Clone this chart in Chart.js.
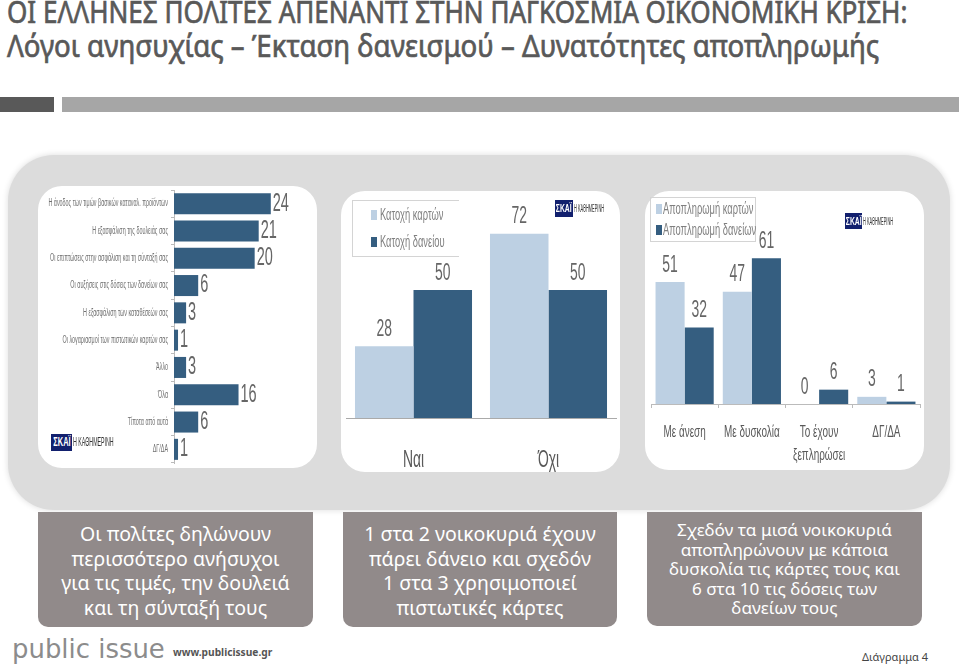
<!DOCTYPE html>
<html>
<head>
<meta charset="utf-8">
<script src="https://cdn.jsdelivr.net/npm/chart.js@4/dist/chart.umd.min.js"></script>
<style>
html, body { margin: 0; padding: 0; background: #fff; overflow: hidden; }
body { width: 959px; height: 665px; position: relative; font-family: "Noto Sans", sans-serif; }
.abs, canvas { position: absolute; }
.title { left: 7px; color: #595959; white-space: nowrap; transform-origin: left center; font-family: "Noto Sans", sans-serif; -webkit-text-stroke: 0.7px #595959; }
.panel { background: #fff; border-radius: 24px; }
.note { background: #918a8a; color: #fff; text-align: center; border-radius: 0 0 10px 10px; font-family: "Noto Sans", sans-serif; }
.legend { border: 1px solid #d4d4d4; box-sizing: border-box; font-family: "Liberation Sans", sans-serif; color: #7f7f7f; }
.legend div { position: absolute; white-space: nowrap; transform-origin: left center; }
.legend i { position: absolute; display: block; }
.skai { background: #12206e; color: #fff; font-family: "Liberation Sans", sans-serif; font-weight: bold; text-align: center; overflow: hidden; }
.skai span { display: inline-block; transform: scaleX(0.62); margin: 0 -8px; }
.kath { color: #333; font-family: "Liberation Sans", sans-serif; white-space: nowrap; transform-origin: left center; }
</style>
</head>
<body>
<div class="abs title" style="top:-9px;font-size:31px;line-height:40px" id="t1">ΟΙ ΕΛΛΗΝΕΣ ΠΟΛΙΤΕΣ ΑΠΕΝΑΝΤΙ ΣΤΗΝ ΠΑΓΚΟΣΜΙΑ ΟΙΚΟΝΟΜΙΚΗ ΚΡΙΣΗ:</div>
<div class="abs title" style="top:25px;font-size:31px;line-height:40px" id="t2">Λόγοι ανησυχίας – Έκταση δανεισμού – Δυνατότητες αποπληρωμής</div>

<div class="abs" style="left:0;top:97px;width:54px;height:15px;background:#595959"></div>
<div class="abs" style="left:62px;top:97px;width:897px;height:15px;background:#a6a6a6"></div>

<div class="abs" style="left:8px;top:155px;width:942px;height:355px;background:#dcdcdc;border-radius:46px;box-shadow:0 0 6px #dcdcdc"></div>
<div class="abs panel" style="left:38px;top:186px;width:279px;height:282px"></div>
<div class="abs panel" style="left:341px;top:191px;width:279px;height:281px"></div>
<div class="abs panel" style="left:645px;top:191px;width:279px;height:279px"></div>

<canvas id="reasonsChart" width="278" height="280" style="left:38px;top:186px"></canvas>
<canvas id="ownershipChart" width="279" height="281" style="left:341px;top:191px"></canvas>
<canvas id="repaymentChart" width="278" height="279" style="left:645px;top:191px"></canvas>

<div class="abs legend" id="legend2" style="left:352px;top:200px;width:107px;height:57px;border-right:0;font-size:17px"></div>
<div class="abs legend" id="legend3" style="left:650px;top:197px;width:106px;height:45px;font-size:17px"></div>

<div class="abs skai" style="left:51px;top:434px;width:21px;height:17px;line-height:17px;font-size:12px"><span>ΣΚΑΪ</span></div>
<div class="abs kath" style="left:73px;top:436px;font-size:12px;line-height:13px;transform:scaleX(0.44)">Η ΚΑΘΗΜΕΡΙΝΗ</div>
<div class="abs skai" style="left:555px;top:200px;width:18px;height:17px;line-height:17px;font-size:11px"><span>ΣΚΑΪ</span></div>
<div class="abs kath" style="left:574px;top:203px;font-size:10px;line-height:11px;transform:scaleX(0.39)">Η ΚΑΘΗΜΕΡΙΝΗ</div>
<div class="abs skai" style="left:845px;top:213px;width:17px;height:16px;line-height:16px;font-size:11px"><span>ΣΚΑΪ</span></div>
<div class="abs kath" style="left:863px;top:216px;font-size:10px;line-height:11px;transform:scaleX(0.39)">Η ΚΑΘΗΜΕΡΙΝΗ</div>

<div class="abs note" style="left:38px;top:512px;width:275px;height:115px;font-size:19.5px;line-height:24.7px"><div style="margin-top:10px">Οι πολίτες δηλώνουν<br>περισσότερο ανήσυχοι<br>για τις τιμές, την δουλειά<br>και τη σύνταξή τους</div></div>
<div class="abs note" style="left:343px;top:512px;width:274px;height:115px;font-size:19.5px;line-height:24.7px"><div style="margin-top:10px">1 στα 2 νοικοκυριά έχουν<br>πάρει δάνειο και σχεδόν<br>1 στα 3 χρησιμοποιεί<br>πιστωτικές κάρτες</div></div>
<div class="abs note" style="left:647px;top:512px;width:275px;height:114px;font-size:17.1px;line-height:19.5px"><div style="margin-top:8px">Σχεδόν τα μισά νοικοκυριά<br>αποπληρώνουν με κάποια<br>δυσκολία τις κάρτες τους και<br>6 στα 10 τις δόσεις των<br>δανείων τους</div></div>

<div class="abs" style="left:12px;top:632px;font:27px/34px 'DejaVu Sans', sans-serif;color:#8c8c8c;transform-origin:left center;transform:scaleX(0.96)">public issue</div>
<div class="abs" style="left:173px;top:644px;font:bold 10.2px/16px 'Noto Sans', sans-serif;color:#555">www.publicissue.gr</div>
<div class="abs" style="left:862px;top:649px;font:11px/16px 'Noto Sans', sans-serif;color:#444">Διάγραμμα 4</div>

<script>
// chart 1 - reasons for concern
const reasonLabels = [
    'Η άνοδος των τιμών βασικών καταναλ. προϊόντων',
    'Η εξασφάλιση της δουλειάς σας',
    'Οι επιπτώσεις στην ασφάλιση και τη σύνταξή σας',
    'Οι αυξήσεις στις δόσεις των δανείων σας',
    'Η εξασφάλιση των καταθέσεών σας',
    'Οι λογαριασμοί των πιστωτικών καρτών σας',
    'Άλλο',
    'Όλα',
    'Τίποτα από αυτά',
    'ΔΓ/ΔΑ'
];
const reasonValues = [24, 21, 20, 6, 3, 1, 3, 16, 6, 1];

// chart 2 - card and loan ownership
const ownershipLabels = ['Ναι', 'Όχι'];
const cardOwnership = [28, 72];
const loanOwnership = [50, 50];

// chart 3 - repayment
const repaymentLabels = ['Με άνεση', 'Με δυσκολία', ['Το έχουν', 'ξεπληρώσει'], 'ΔΓ/ΔΑ'];
const cardRepayment = [51, 47, 0, 3];
const loanRepayment = [32, 61, 6, 1];

const LIGHT = '#bdd0e3';
const DARK = '#355e80';
const FONT = '"Liberation Sans", sans-serif';

// the reference uses a tall condensed face, none is installed so squeeze the text
function narrowText(ctx, text, x, y, squeeze, align) {
    ctx.save();
    ctx.translate(x, y);
    ctx.scale(squeeze, 1);
    ctx.textAlign = align || 'center';
    ctx.textBaseline = 'middle';
    ctx.fillText(text, 0, 0);
    ctx.restore();
}

// draws the number next to each bar
const valueLabels = {
    id: 'valueLabels',
    afterDatasetsDraw(chart, args, opts) {
        const ctx = chart.ctx;
        ctx.save();
        ctx.fillStyle = '#666';
        ctx.font = opts.size + 'px ' + FONT;
        chart.data.datasets.forEach((ds, i) => {
            chart.getDatasetMeta(i).data.forEach((bar, j) => {
                const text = String(ds.data[j]);
                if (chart.options.indexAxis === 'y') {
                    narrowText(ctx, text, bar.x + 2, bar.y, 0.58, 'left');
                } else {
                    narrowText(ctx, text, bar.x, bar.y - 17, 0.58);
                }
            });
        });
        ctx.restore();
    }
};

// category labels
const categoryLabels = {
    id: 'categoryLabels',
    afterDraw(chart, args, opts) {
        const ctx = chart.ctx;
        const horizontal = chart.options.indexAxis === 'y';
        const scale = horizontal ? chart.scales.y : chart.scales.x;
        ctx.save();
        ctx.fillStyle = opts.color;
        ctx.font = opts.size + 'px ' + FONT;
        scale.ticks.forEach((tick, i) => {
            const pos = scale.getPixelForTick(i);
            if (horizontal) {
                narrowText(ctx, tick.label, scale.right - opts.offset, pos, opts.squeeze, 'right');
            } else {
                [].concat(tick.label).forEach((line, k) => {
                    narrowText(ctx, line, pos, scale.top + opts.offset + k * opts.lineGap, opts.squeeze);
                });
            }
        });
        ctx.restore();
    }
};

function fillLegend(id, names, rows, swatchX, textX, squeeze) {
    const box = document.getElementById(id);
    names.forEach((name, i) => {
        const swatch = document.createElement('i');
        swatch.style.cssText = 'left:' + swatchX + 'px;top:' + (rows[i] - 5) + 'px;width:6px;height:10px;background:' + (i ? DARK : LIGHT);
        const text = document.createElement('div');
        text.style.cssText = 'left:' + textX + 'px;top:' + (rows[i] - 10) + 'px;line-height:20px;transform:scaleX(' + squeeze + ')';
        text.textContent = name;
        box.appendChild(swatch);
        box.appendChild(text);
    });
}

new Chart(document.getElementById('reasonsChart'), {
    type: 'bar',
    data: {
        labels: reasonLabels,
        datasets: [{ data: reasonValues, backgroundColor: DARK, barPercentage: 0.77, categoryPercentage: 1 }]
    },
    options: {
        indexAxis: 'y',
        responsive: false,
        animation: false,
        layout: { padding: { top: 4, bottom: 3, right: 21 } },
        plugins: {
            legend: { display: false },
            tooltip: { enabled: false },
            valueLabels: { size: 25 },
            categoryLabels: { size: 10, squeeze: 0.54, color: '#6f6f6f', offset: 6 }
        },
        scales: {
            x: { display: false, min: 0, max: 30 },
            y: {
                afterFit(scale) { scale.width = 136; },
                grid: { drawOnChartArea: false, tickLength: 3, color: '#bbb' },
                border: { color: '#bbb' },
                ticks: { display: false, autoSkip: false }
            }
        }
    },
    plugins: [valueLabels, categoryLabels]
});

new Chart(document.getElementById('ownershipChart'), {
    type: 'bar',
    data: {
        labels: ownershipLabels,
        datasets: [
            { label: 'Κατοχή καρτών', data: cardOwnership, backgroundColor: LIGHT, barPercentage: 1, categoryPercentage: 0.867 },
            { label: 'Κατοχή δανείου', data: loanOwnership, backgroundColor: DARK, barPercentage: 1, categoryPercentage: 0.867 }
        ]
    },
    options: {
        responsive: false,
        animation: false,
        layout: { padding: { top: 7, left: 5, right: 4 } },
        plugins: {
            legend: { display: false },
            tooltip: { enabled: false },
            valueLabels: { size: 24 },
            categoryLabels: { size: 24, squeeze: 0.58, color: '#595959', offset: 42, lineGap: 23 }
        },
        scales: {
            y: { display: false, min: 0, max: 86 },
            x: {
                afterFit(scale) { scale.height = 54; },
                grid: { drawOnChartArea: false, drawTicks: false },
                border: { color: '#aaa' },
                ticks: { display: false, autoSkip: false }
            }
        }
    },
    plugins: [valueLabels, categoryLabels]
});

new Chart(document.getElementById('repaymentChart'), {
    type: 'bar',
    data: {
        labels: repaymentLabels,
        datasets: [
            { label: 'Αποπληρωμή καρτών', data: cardRepayment, backgroundColor: LIGHT, barPercentage: 1, categoryPercentage: 0.865 },
            { label: 'Αποπληρωμή δανείων', data: loanRepayment, backgroundColor: DARK, barPercentage: 1, categoryPercentage: 0.865 }
        ]
    },
    options: {
        responsive: false,
        animation: false,
        layout: { padding: { top: 5, left: 6, right: 3 } },
        plugins: {
            legend: { display: false },
            tooltip: { enabled: false },
            valueLabels: { size: 24 },
            categoryLabels: { size: 16, squeeze: 0.62, color: '#595959', offset: 29, lineGap: 23 }
        },
        scales: {
            y: { display: false, min: 0, max: 87 },
            x: {
                afterFit(scale) { scale.height = 66; },
                grid: { drawOnChartArea: false, tickLength: 4, color: '#bbb' },
                border: { color: '#bbb' },
                ticks: { display: false, autoSkip: false }
            }
        }
    },
    plugins: [valueLabels, categoryLabels]
});

fillLegend('legend2', ['Κατοχή καρτών', 'Κατοχή δανείου'], [14, 41], 18, 27, 0.55);
fillLegend('legend3', ['Αποπληρωμή καρτών', 'Αποπληρωμή δανείων'], [11, 32], 5, 12, 0.55);

// stretch the titles to the reference widths
[['t1', 900], ['t2', 872]].forEach(([id, w]) => {
    const el = document.getElementById(id);
    el.style.transform = 'scaleX(' + (w / el.offsetWidth) + ')';
});
</script>
</body>
</html>
